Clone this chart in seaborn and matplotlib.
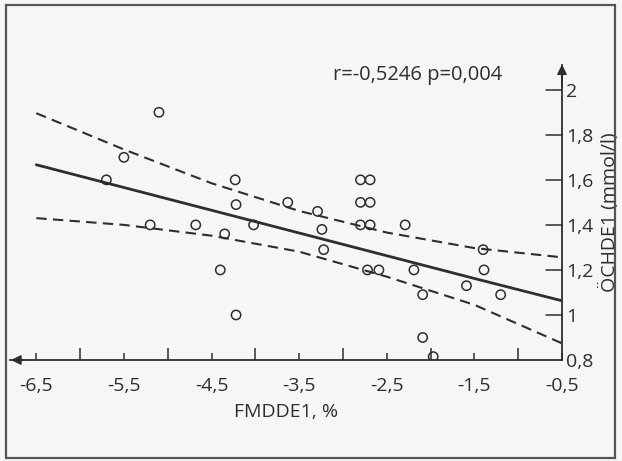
import numpy as np
import pandas as pd
import matplotlib
matplotlib.use("Agg")
import matplotlib.pyplot as plt
import seaborn as sns
from matplotlib.patches import Rectangle

# Data
fmd = [-5.1, -5.5, -5.7, -5.2, -4.68, -4.35, -4.23, -4.22, -4.02, -4.4, -4.22,
       -3.63, -3.29, -3.24, -3.22, -2.80, -2.69, -2.80, -2.69, -2.80, -2.69,
       -2.72, -2.59, -2.29, -2.19, -2.09, -2.09, -1.97, -1.59, -1.40, -1.39, -1.20]
ochde = [1.9, 1.7, 1.6, 1.4, 1.4, 1.36, 1.6, 1.49, 1.4, 1.2, 1.0,
         1.5, 1.46, 1.38, 1.29, 1.6, 1.6, 1.5, 1.5, 1.4, 1.4,
         1.2, 1.2, 1.4, 1.2, 1.09, 0.9, 0.815, 1.13, 1.29, 1.2, 1.09]

# Regression line and confidence limits
band_x = [-6.5, -5.5, -4.5, -3.5, -2.5, -1.5, -0.5]
fit_y = [1.667, 1.566, 1.465, 1.364, 1.263, 1.162, 1.063]
upper_y = [1.896, 1.735, 1.585, 1.462, 1.366, 1.297, 1.256]
lower_y = [1.430, 1.400, 1.352, 1.281, 1.170, 1.045, 0.874]

x_ticks = [-6.5, -5.5, -4.5, -3.5, -2.5, -1.5, -0.5]
x_minor = [-6.0, -5.0, -4.0, -3.0, -2.0, -1.0]
y_ticks = [0.8, 1.0, 1.2, 1.4, 1.6, 1.8, 2.0]
annotation = "r=-0,5246 p=0,004"

df = pd.DataFrame({"FMDDE1": fmd, "OCHDE1": ochde})
band = pd.DataFrame({"x": band_x, "fit": fit_y, "up": upper_y, "lo": lower_y})

sns.set_style("white")
plt.rcParams["font.family"] = ["Open Sans", "DejaVu Sans"]
ink = "#2e2e2e"
fs = 14

W, H = 622, 461
fig = plt.figure(figsize=(W / 100, H / 100), dpi=100)
fig.patch.set_facecolor("#f6f6f4")
fig.patches.append(Rectangle((6 / W, 1 - 458 / H), (615 - 6) / W, (458 - 5) / H,
                             transform=fig.transFigure, fill=False,
                             edgecolor="#555555", linewidth=1.6))

ax = fig.add_axes([10 / W, 1 - 360 / H, (562 - 10) / W, (360 - 65) / H])
ax.set_facecolor("none")

sns.lineplot(data=band, x="x", y="fit", ax=ax, color=ink, linewidth=2.0)
sns.lineplot(data=band, x="x", y="up", ax=ax, color=ink, linewidth=1.5,
             linestyle=(0, (5, 3)))
sns.lineplot(data=band, x="x", y="lo", ax=ax, color=ink, linewidth=1.5,
             linestyle=(0, (5, 3)))
sns.scatterplot(data=df, x="FMDDE1", y="OCHDE1", ax=ax, marker="o", s=45,
                facecolor="none", edgecolor=ink, linewidth=1.1, zorder=5)

ax.set_xlim(-6.8, -0.5)
ax.set_ylim(0.8, 2.11)
for s in ["top", "left"]:
    ax.spines[s].set_visible(False)
for s in ["bottom", "right"]:
    ax.spines[s].set_color(ink)
    ax.spines[s].set_linewidth(1.3)

ax.yaxis.tick_right()
ax.yaxis.set_label_position("right")
ax.set_xticks(x_ticks)
ax.set_xticklabels([f"{v:.1f}".replace(".", ",") for v in x_ticks])
ax.set_xticks(x_minor, minor=True)
ax.set_yticks(y_ticks)
ax.set_yticklabels([f"{v:g}".replace(".", ",") for v in y_ticks])
ax.tick_params(axis="x", which="major", direction="in", length=5, width=1.1,
               colors=ink, labelsize=fs, pad=12, bottom=True)
ax.tick_params(axis="x", which="minor", direction="in", length=9, width=1.1,
               colors=ink, bottom=True)
ax.tick_params(axis="y", direction="out", length=0, colors=ink,
               labelsize=fs, pad=3, right=True, left=False)
# y ticks point left of the spine
for y in y_ticks[1:]:
    ax.plot([-0.68, -0.5], [y, y], color=ink, linewidth=1.1, clip_on=False)

ax.set_xlabel("FMDDE1, %", fontsize=fs, color=ink, labelpad=6)
ax.set_ylabel("ÖCHDE1 (mmol/l)", fontsize=fs, color=ink, labelpad=4)

# axis arrows
ax.annotate("", xy=(-6.82, 0.8), xytext=(-6.6, 0.8),
            arrowprops=dict(arrowstyle="-|>", color=ink, lw=1.3, mutation_scale=14),
            annotation_clip=False)
ax.annotate("", xy=(-0.5, 2.125), xytext=(-0.5, 2.0),
            arrowprops=dict(arrowstyle="-|>", color=ink, lw=1.3, mutation_scale=14),
            annotation_clip=False)

ax.text(-2.15, 2.066, annotation, fontsize=14.5, color=ink, ha="center", va="center")

fig.savefig("out.png", dpi=100, facecolor=fig.get_facecolor())
